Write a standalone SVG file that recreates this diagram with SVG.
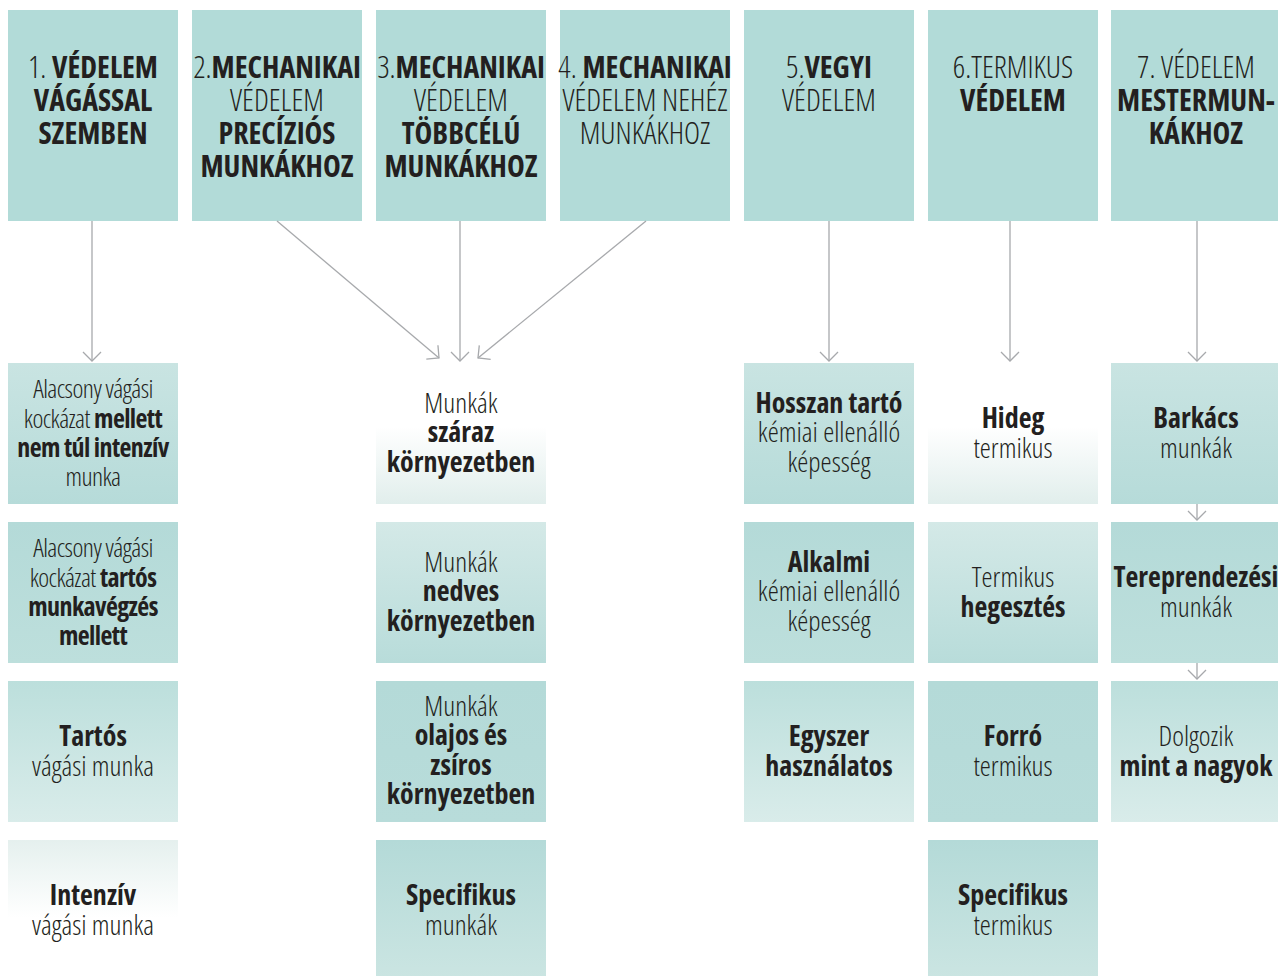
<svg xmlns="http://www.w3.org/2000/svg" width="1278" height="976" viewBox="0 0 1278 976">
<style>
text{font-family:'Open Sans','Noto Sans',sans-serif;font-stretch:condensed;fill:#231f20;text-anchor:middle}
.h{font-size:30.5px}
.h .b,.h.b{font-size:30px}
.n{font-size:28px}
.s{font-size:26px;letter-spacing:-0.6px}
.l{font-weight:300}
.b{font-weight:700}
.hd{fill:#b2dbd8}
.cn line{stroke:#a7a9ac;stroke-width:1.3;fill:none;marker-end:url(#ah)}
</style>
<defs>
<marker id="ah" viewBox="-11 -11 13 22" refX="0" refY="0" markerWidth="13" markerHeight="22" markerUnits="userSpaceOnUse" orient="auto">
<path d="M-9,-9 L0,0 L-9,9" fill="none" stroke="#a7a9ac" stroke-width="1.3"/>
</marker>
<linearGradient id="gA" x1="0" y1="0" x2="0" y2="1"><stop offset="0" stop-color="#c9e4e2"/><stop offset="1" stop-color="#b6dbd9"/></linearGradient>
<linearGradient id="gB" x1="0" y1="0" x2="0" y2="1"><stop offset="0" stop-color="#b4dad8"/><stop offset="1" stop-color="#bddfdc"/></linearGradient>
<linearGradient id="gB2" x1="0" y1="0" x2="0" y2="1"><stop offset="0" stop-color="#d4e9e7"/><stop offset="1" stop-color="#b8dcda"/></linearGradient>
<linearGradient id="gC" x1="0" y1="0" x2="0" y2="1"><stop offset="0" stop-color="#bcdfdc"/><stop offset="1" stop-color="#d9ecea"/></linearGradient>
<linearGradient id="gS" x1="0" y1="0" x2="0" y2="1"><stop offset="0" stop-color="#b4dad8"/><stop offset="1" stop-color="#b8dcda"/></linearGradient>
<linearGradient id="gD" x1="0" y1="0" x2="0" y2="1"><stop offset="0" stop-color="#b4dad8"/><stop offset="1" stop-color="#cbe5e2"/></linearGradient>
<linearGradient id="gWU" x1="0" y1="0" x2="0" y2="1"><stop offset="0" stop-color="#ffffff"/><stop offset="0.45" stop-color="#ffffff"/><stop offset="1" stop-color="#e1eeec"/></linearGradient>
<linearGradient id="gWD" x1="0" y1="0" x2="0" y2="1"><stop offset="0" stop-color="#e5f0ee"/><stop offset="0.55" stop-color="#ffffff"/><stop offset="1" stop-color="#ffffff"/></linearGradient>
</defs>
<rect width="1278" height="976" fill="#ffffff"/>

<g id="h1"><rect class="hd" x="8" y="10" width="170" height="211"/>
<text class="h" x="93" y="78"><tspan class="l">1. </tspan><tspan class="b">VÉDELEM</tspan></text>
<text class="h b" x="93" y="111">VÁGÁSSAL</text>
<text class="h b" x="93" y="144">SZEMBEN</text></g>

<g id="h2"><rect class="hd" x="192" y="10" width="170" height="211"/>
<text class="h" x="277" y="78"><tspan class="l">2.</tspan><tspan class="b">MECHANIKAI</tspan></text>
<text class="h l" x="277" y="111">VÉDELEM</text>
<text class="h b" x="277" y="144">PRECÍZIÓS</text>
<text class="h b" x="277" y="177">MUNKÁKHOZ</text></g>

<g id="h3"><rect class="hd" x="376" y="10" width="170" height="211"/>
<text class="h" x="461" y="78"><tspan class="l">3.</tspan><tspan class="b">MECHANIKAI</tspan></text>
<text class="h l" x="461" y="111">VÉDELEM</text>
<text class="h b" x="461" y="144">TÖBBCÉLÚ</text>
<text class="h b" x="461" y="177">MUNKÁKHOZ</text></g>

<g id="h4"><rect class="hd" x="560" y="10" width="170" height="211"/>
<text class="h" x="645" y="78"><tspan class="l">4. </tspan><tspan class="b">MECHANIKAI</tspan></text>
<text class="h l" x="645" y="111">VÉDELEM NEHÉZ</text>
<text class="h l" x="645" y="144">MUNKÁKHOZ</text></g>

<g id="h5"><rect class="hd" x="744" y="10" width="170" height="211"/>
<text class="h" x="829" y="78"><tspan class="l">5.</tspan><tspan class="b">VEGYI</tspan></text>
<text class="h l" x="829" y="111">VÉDELEM</text></g>

<g id="h6"><rect class="hd" x="928" y="10" width="170" height="211"/>
<text class="h l" x="1013" y="78">6.TERMIKUS</text>
<text class="h b" x="1013" y="111">VÉDELEM</text></g>

<g id="h7"><rect class="hd" x="1111" y="10" width="170" height="211"/>
<text class="h l" x="1196" y="78">7. VÉDELEM</text>
<text class="h b" x="1196" y="111">MESTERMUN-</text>
<text class="h b" x="1196" y="144">KÁKHOZ</text></g>

<g class="cn" id="connectors">
<line x1="92" y1="221" x2="92" y2="361"/>
<line x1="277" y1="221" x2="439" y2="358"/>
<line x1="460" y1="221" x2="460" y2="361"/>
<line x1="646" y1="221" x2="478" y2="358"/>
<line x1="829" y1="221" x2="829" y2="361"/>
<line x1="1010" y1="221" x2="1010" y2="361"/>
<line x1="1197" y1="221" x2="1197" y2="361"/>
<line x1="1197" y1="504" x2="1197" y2="520"/>
<line x1="1197" y1="663" x2="1197" y2="679"/>
</g>

<g id="c1r1"><rect x="8" y="363" width="170" height="141" fill="url(#gA)"/>
<text class="s l" x="93" y="398">Alacsony vágási</text>
<text class="s" x="93" y="428"><tspan class="l">kockázat </tspan><tspan class="b">mellett</tspan></text>
<text class="s b" x="93" y="457">nem túl intenzív</text>
<text class="s l" x="93" y="486">munka</text></g>

<g id="c1r2"><rect x="8" y="522" width="170" height="141" fill="url(#gB)"/>
<text class="s l" x="93" y="557">Alacsony vágási</text>
<text class="s" x="93" y="587"><tspan class="l">kockázat </tspan><tspan class="b">tartós</tspan></text>
<text class="s b" x="93" y="616">munkavégzés</text>
<text class="s b" x="93" y="645">mellett</text></g>

<g id="c1r3"><rect x="8" y="681" width="170" height="141" fill="url(#gC)"/>
<text class="n b" x="93" y="746">Tartós</text>
<text class="n l" x="93" y="776">vágási munka</text></g>

<g id="c1r4"><rect x="8" y="840" width="170" height="141" fill="url(#gWD)"/>
<text class="n b" x="93" y="905">Intenzív</text>
<text class="n l" x="93" y="935">vágási munka</text></g>

<g id="c3r1"><rect x="376" y="363" width="170" height="141" fill="url(#gWU)"/>
<text class="n l" x="461" y="413">Munkák</text>
<text class="n b" x="461" y="442">száraz</text>
<text class="n b" x="461" y="472">környezetben</text></g>

<g id="c3r2"><rect x="376" y="522" width="170" height="141" fill="url(#gB2)"/>
<text class="n l" x="461" y="572">Munkák</text>
<text class="n b" x="461" y="601">nedves</text>
<text class="n b" x="461" y="631">környezetben</text></g>

<g id="c3r3"><rect x="376" y="681" width="170" height="141" fill="url(#gS)"/>
<text class="n l" x="461" y="716">Munkák</text>
<text class="n b" x="461" y="745">olajos és</text>
<text class="n b" x="461" y="775">zsíros</text>
<text class="n b" x="461" y="804">környezetben</text></g>

<g id="c3r4"><rect x="376" y="840" width="170" height="141" fill="url(#gD)"/>
<text class="n b" x="461" y="905">Specifikus</text>
<text class="n l" x="461" y="935">munkák</text></g>

<g id="c5r1"><rect x="744" y="363" width="170" height="141" fill="url(#gA)"/>
<text class="n b" x="829" y="413">Hosszan tartó</text>
<text class="n l" x="829" y="442">kémiai ellenálló</text>
<text class="n l" x="829" y="472">képesség</text></g>

<g id="c5r2"><rect x="744" y="522" width="170" height="141" fill="url(#gB)"/>
<text class="n b" x="829" y="572">Alkalmi</text>
<text class="n l" x="829" y="601">kémiai ellenálló</text>
<text class="n l" x="829" y="631">képesség</text></g>

<g id="c5r3"><rect x="744" y="681" width="170" height="141" fill="url(#gC)"/>
<text class="n b" x="829" y="746">Egyszer</text>
<text class="n b" x="829" y="776">használatos</text></g>

<g id="c6r1"><rect x="928" y="363" width="170" height="141" fill="url(#gWU)"/>
<text class="n b" x="1013" y="428">Hideg</text>
<text class="n l" x="1013" y="458">termikus</text></g>

<g id="c6r2"><rect x="928" y="522" width="170" height="141" fill="url(#gB2)"/>
<text class="n l" x="1013" y="587">Termikus</text>
<text class="n b" x="1013" y="617">hegesztés</text></g>

<g id="c6r3"><rect x="928" y="681" width="170" height="141" fill="url(#gS)"/>
<text class="n b" x="1013" y="746">Forró</text>
<text class="n l" x="1013" y="776">termikus</text></g>

<g id="c6r4"><rect x="928" y="840" width="170" height="141" fill="url(#gD)"/>
<text class="n b" x="1013" y="905">Specifikus</text>
<text class="n l" x="1013" y="935">termikus</text></g>

<g id="c7r1"><rect x="1111" y="363" width="170" height="141" fill="url(#gA)"/>
<text class="n b" x="1196" y="428">Barkács</text>
<text class="n l" x="1196" y="458">munkák</text></g>

<g id="c7r2"><rect x="1111" y="522" width="170" height="141" fill="url(#gB)"/>
<text class="n b" x="1196" y="587">Tereprendezési</text>
<text class="n l" x="1196" y="617">munkák</text></g>

<g id="c7r3"><rect x="1111" y="681" width="170" height="141" fill="url(#gC)"/>
<text class="n l" x="1196" y="746">Dolgozik</text>
<text class="n b" x="1196" y="776">mint a nagyok</text></g>
</svg>
